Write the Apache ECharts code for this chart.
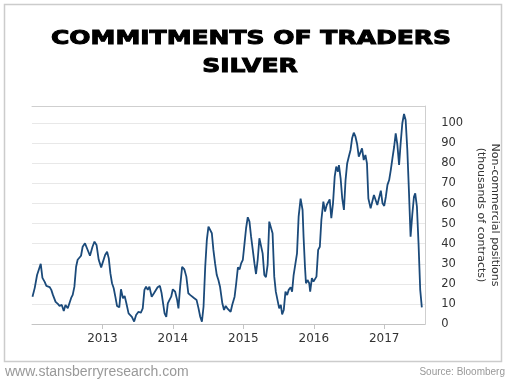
<!DOCTYPE html>
<html>
<head>
<meta charset="utf-8">
<script src="https://cdn.jsdelivr.net/npm/echarts@6/dist/echarts.min.js"></script>
<style>html,body{margin:0;padding:0;background:#fff}#chart{width:510px;height:384px}</style>
</head>
<body>
<div id="chart"></div>
<script>
// Decimal-year dates and non-commercial net positions (thousands of contracts)
const years = [
2012.007,2012.039,2012.072,2012.100,2012.124,2012.148,2012.180,2012.204,2012.226,2012.250,
2012.274,2012.297,2012.335,2012.367,2012.391,2012.423,2012.451,2012.475,2012.508,2012.532,
2012.556,2012.578,2012.602,2012.626,2012.648,2012.672,2012.696,2012.719,2012.752,2012.789,
2012.823,2012.859,2012.887,2012.916,2012.947,2012.982,2013.010,2013.038,2013.066,2013.090,
2013.113,2013.136,2013.160,2013.183,2013.207,2013.239,2013.263,2013.291,2013.315,2013.338,
2013.371,2013.394,2013.418,2013.450,2013.478,2013.512,2013.544,2013.572,2013.596,2013.619,
2013.643,2013.667,2013.699,2013.731,2013.759,2013.783,2013.816,2013.840,2013.864,2013.882,
2013.906,2013.928,2013.952,2013.976,2013.999,2014.032,2014.060,2014.079,2014.103,2014.131,
2014.163,2014.191,2014.219,2014.248,2014.276,2014.304,2014.336,2014.364,2014.388,2014.412,
2014.435,2014.459,2014.482,2014.505,2014.529,2014.553,2014.575,2014.599,2014.623,2014.646,
2014.669,2014.702,2014.726,2014.750,2014.772,2014.796,2014.820,2014.842,2014.876,2014.899,
2014.923,2014.947,2014.969,2014.993,2015.017,2015.039,2015.063,2015.087,2015.110,2015.134,
2015.158,2015.180,2015.204,2015.228,2015.250,2015.274,2015.298,2015.321,2015.345,2015.368,
2015.391,2015.415,2015.439,2015.461,2015.485,2015.509,2015.532,2015.551,2015.574,2015.598,
2015.622,2015.644,2015.672,2015.692,2015.714,2015.738,2015.762,2015.785,2015.813,2015.841,
2015.855,2015.875,2015.889,2015.911,2015.935,2015.949,2015.973,2015.996,2016.020,2016.038,
2016.062,2016.086,2016.108,2016.136,2016.160,2016.184,2016.207,2016.226,2016.249,2016.273,
2016.297,2016.319,2016.343,2016.357,2016.381,2016.404,2016.428,2016.451,2016.474,2016.498,
2016.522,2016.544,2016.568,2016.592,2016.615,2016.639,2016.662,2016.685,2016.709,2016.733,
2016.755,2016.775,2016.807,2016.831,2016.854,2016.878,2016.902,2016.930,2016.952,2016.976,
2017.000,2017.023,2017.046,2017.070,2017.093,2017.117,2017.141,2017.163,2017.187,2017.211,
2017.233,2017.257,2017.281,2017.304,2017.328,2017.352,2017.374,2017.398,2017.422,2017.440,
2017.464,2017.487,2017.511,2017.534
];
const positions = [
13.6,18,24.4,27.4,30,23,21,19,19.4,18.4,
17,14.5,11,10,9,9.5,6.5,9.5,7.8,8.4,
13,14.5,18.6,28.5,32,32.7,34,38.5,40.2,37,
34,38.5,41,39.4,32,28.2,29,34.4,36,32.7,
25.2,20.3,17.8,13.6,9,8.3,17.3,12.8,14,10.6,
5.3,5.3,3.6,1.2,4.5,6.1,5.6,7.8,17,18.6,
17,18.6,13.6,15.3,15.6,18.3,19,15.3,9.5,5.3,
3.6,10.3,12,13.6,17.3,16.1,12,7.8,18.6,28.5,
27.2,23.6,15.3,14.4,13.6,12.8,12,7.8,3.6,1.2,
8.6,28.5,41.9,48.5,48.8,45.2,36.9,30.2,24.4,21.9,
18.6,10.3,7,9,7.8,7,6.1,9.5,13.6,20.3,
28.2,27.2,30.2,32,40.2,47.7,53.2,51,43.5,36.9,
30.2,24.9,32,42.7,41.9,35.2,24.4,23.3,29.4,51,
50.5,45.2,23.6,16.1,15.3,7.8,9.5,4.8,7,16.1,
14.4,17,18.3,16.1,24.4,23.6,35.2,53.5,62.5,56.8,
43.5,28.5,20.3,21.9,20.3,16.1,22.8,21.1,21.9,23.6,
36.9,38.5,51.8,61,56,59.3,58.5,62.1,52.7,60.1,
73.4,78.4,75.9,79.2,72.6,62.6,56.8,71.7,80,83.4,
86.7,92.5,95.3,93.3,89.7,83.4,82.6,87.5,81.7,84.2,
80,62.5,57.6,61,64.3,61.8,59.3,58.8,66.4,60.1,
58.8,63.4,69.3,71.7,76.7,82.6,88.3,95,89.2,79.2,
90,100,104.6,101.6,86.7,65.1,43.5,54.3,63.4,65.1,
58.5,40.2,17,8.3
];
const yearTicks = [2013, 2014, 2015, 2016, 2017];
const valueTicks = [0, 10, 20, 30, 40, 50, 60, 70, 80, 90, 100];
const titleLines = ['COMMITMENTS OF TRADERS', 'SILVER'];
const axisTitle = 'Non-commercial positions\n(thousands of contracts)';
const footerLeft = 'www.stansberryresearch.com';
const footerRight = 'Source: Bloomberg';

const chart = echarts.init(document.getElementById('chart'), null, {renderer: 'canvas'});
const xMin = 2012.0, xMax = 2017.581;
chart.setOption({
  animation: false,
  backgroundColor: '#fff',
  grid: {left: 32, right: 81, top: 106, bottom: 60, containLabel: false},
  xAxis: [{
    type: 'value', min: xMin, max: xMax, interval: 1,
    axisLine: {show: true, lineStyle: {color: '#c4c4c4', width: 1}},
    axisTick: {show: true, length: 5, lineStyle: {color: '#c4c4c4'}, customValues: yearTicks},
    axisLabel: {customValues: yearTicks, margin: 9, color: '#333', fontFamily: 'DejaVu Sans', fontSize: 12,
      formatter: v => String(Math.round(v))},
    splitLine: {show: false}
  }, {
    type: 'value', min: xMin, max: xMax, position: 'top',
    axisLine: {show: true, lineStyle: {color: '#cfcfcf', width: 1}},
    axisTick: {show: false}, axisLabel: {show: false}, splitLine: {show: false}
  }],
  yAxis: {
    type: 'value', position: 'right', min: 0, max: 108.6, interval: 10,
    axisLine: {show: true, lineStyle: {color: '#cfcfcf', width: 1}},
    axisTick: {show: false},
    axisLabel: {customValues: valueTicks, margin: 16, color: '#333', fontFamily: 'DejaVu Sans', fontSize: 11.5, align: 'left'},
    splitLine: {show: true, lineStyle: {color: '#e8e8e8', width: 1}},
    name: axisTitle, nameLocation: 'middle', nameRotate: -90, nameGap: 40,
    nameTextStyle: {color: '#333', fontFamily: 'DejaVu Sans', fontSize: 11, lineHeight: 14, align: 'center', verticalAlign: 'middle'}
  },
  series: [{
    type: 'line', xAxisIndex: 0,
    data: years.map((y, i) => [y, positions[i]]),
    symbol: 'none', smooth: false,
    lineStyle: {color: '#1b4a7a', width: 1.8}
  }],
  graphic: [
    {type: 'rect', shape: {x: 4.5, y: 4.5, width: 497, height: 357}, style: {fill: 'none', stroke: '#cccccc', lineWidth: 1.5}, silent: true},
    {type: 'text', x: 251, y: 39, scaleX: 1.25, style: {text: titleLines[0], x: 0, y: 0, align: 'center', verticalAlign: 'middle', font: 'bold 20px "DejaVu Sans"', fill: '#000', stroke: '#000', lineWidth: 1}},
    {type: 'text', x: 250, y: 67, scaleX: 1.25, style: {text: titleLines[1], x: 0, y: 0, align: 'center', verticalAlign: 'middle', font: 'bold 20px "DejaVu Sans"', fill: '#000', stroke: '#000', lineWidth: 1}},
    {type: 'text', x: 5, y: 372, style: {text: footerLeft, align: 'left', verticalAlign: 'middle', font: '14px "Liberation Sans"', fill: '#999'}},
    {type: 'text', x: 505, y: 372, style: {text: footerRight, align: 'right', verticalAlign: 'middle', font: '10px "Liberation Sans"', fill: '#999'}}
  ]
});
</script>
</body>
</html>
